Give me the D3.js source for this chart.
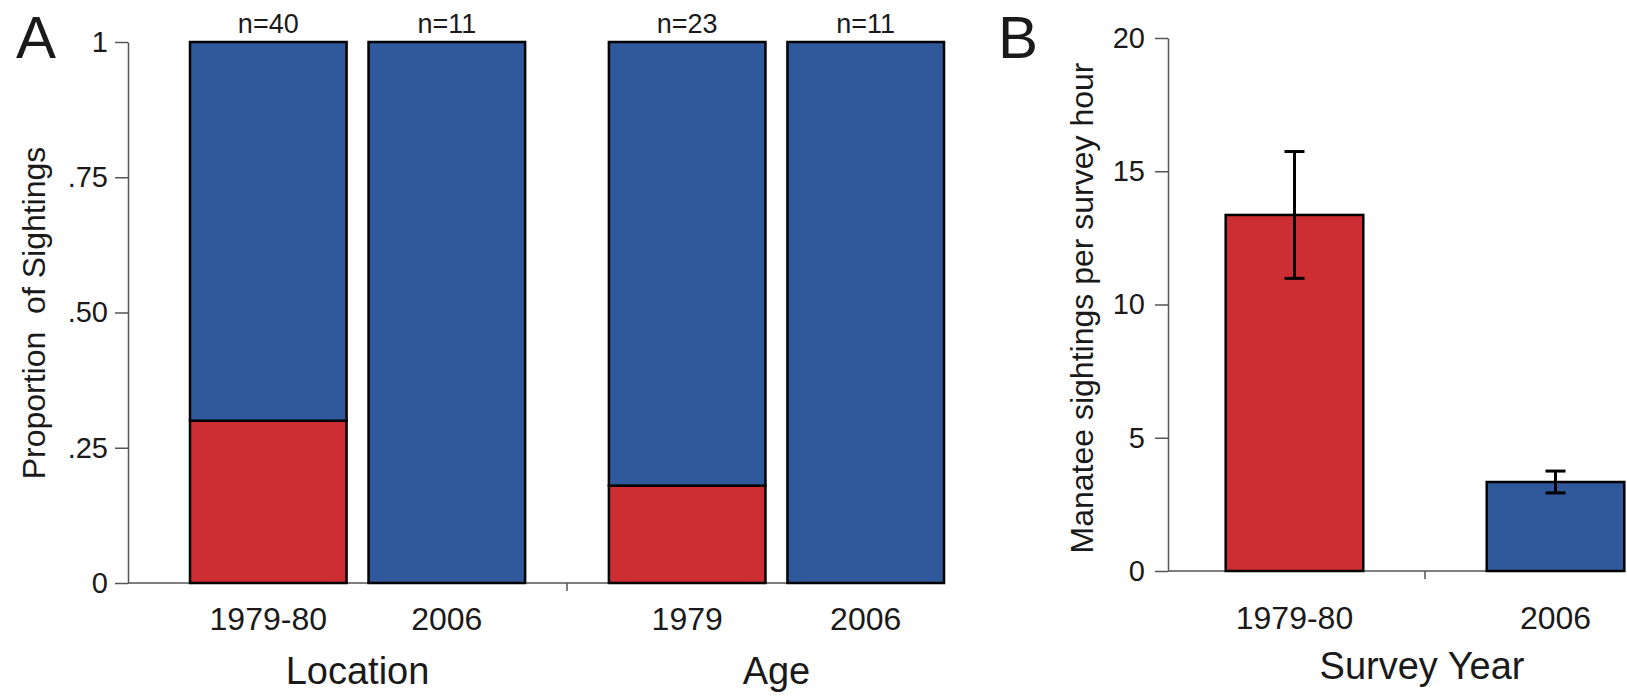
<!DOCTYPE html>
<html>
<head>
<meta charset="utf-8">
<script src="https://cdn.jsdelivr.net/npm/d3@7"></script>
<style>
  body { margin: 0; background: #fff; }
  text { font-family: "Liberation Sans", Arial, Helvetica, sans-serif; fill: #1a1a1a; }
</style>
</head>
<body>
<div id="graph"></div>
<script>
// panel A data
const groupsA = ["Location", "Age"];
const yearsA = ["1979-80", "2006", "1979", "2006"];
const groupOfA = ["Location", "Location", "Age", "Age"];
const redShareA = [0.30, 0, 0.18, 0];
const countsA = [40, 11, 23, 11];
const ticksA = [0, 0.25, 0.5, 0.75, 1];
const tickLabelsA = ["0", ".25", ".50", ".75", "1"];

// panel B data
const yearsB = ["1979-80", "2006"];
const ratesB = [13.36, 3.34];
const errorsB = [2.38, 0.41];
const ticksB = [0, 5, 10, 15, 20];

const width = 1627;
const height = 696;
const red = "#cc2e33";
const blue = "#30599c";
const axisGray = "#555";

let svg = d3.select('#graph')
  .append('svg')
  .attr('width', width)
  .attr('height', height);

function styleAxis(g) {
  g.attr('font-size', 29)
    .attr('font-family', '"Liberation Sans", Arial, sans-serif');
  g.selectAll('.domain, .tick line')
    .attr('stroke', axisGray)
    .attr('stroke-width', 1.5);
  g.selectAll('.tick text').style('fill', '#1a1a1a');
}

// ---------- panel A ----------
let panelA = svg.append('g').attr('class', 'panel-a');

let yA = d3.scaleLinear().domain([0, 1]).range([583, 42]);
let outerA = d3.scaleBand()
  .domain(groupsA)
  .range([128, 1006])
  .paddingInner(0.2)
  .paddingOuter(0.148);
let innerA = d3.scaleBand()
  .domain([0, 1])
  .range([0, outerA.bandwidth()])
  .paddingInner(0.123);

let barsA = yearsA.map((year, i) => {
  let slot = groupOfA.slice(0, i).filter(g => g === groupOfA[i]).length;
  let x = outerA(groupOfA[i]) + innerA(slot);
  let segs = [
    { y0: 0, y1: redShareA[i], color: red },
    { y0: redShareA[i], y1: 1, color: blue }
  ].filter(s => s.y1 > s.y0);
  return { year: year, n: countsA[i], x: x, segs: segs };
});

let lastA = barsA[barsA.length - 1];
// baseline
panelA.append('line')
  .attr('x1', 128).attr('x2', lastA.x + innerA.bandwidth())
  .attr('y1', yA(0)).attr('y2', yA(0))
  .attr('stroke', axisGray).attr('stroke-width', 1.5);
// tick between groups
let midA = (outerA(groupsA[0]) + outerA.bandwidth() + outerA(groupsA[1])) / 2;
panelA.append('line')
  .attr('x1', midA).attr('x2', midA)
  .attr('y1', yA(0)).attr('y2', yA(0) + 8)
  .attr('stroke', axisGray).attr('stroke-width', 1.5);

panelA.append('g')
  .attr('transform', 'translate(128,0)')
  .call(d3.axisLeft(yA)
    .tickValues(ticksA)
    .tickFormat((d, i) => tickLabelsA[i])
    .tickSize(13)
    .tickPadding(7)
    .tickSizeOuter(0))
  .call(styleAxis);

barsA.forEach(b => {
  panelA.selectAll(null)
    .data(b.segs)
    .enter()
    .append('rect')
    .attr('x', b.x)
    .attr('y', d => yA(d.y1))
    .attr('width', innerA.bandwidth())
    .attr('height', d => yA(d.y0) - yA(d.y1))
    .attr('fill', d => d.color)
    .attr('stroke', '#000')
    .attr('stroke-width', 2.5);

  panelA.append('text')
    .attr('x', b.x + innerA.bandwidth() / 2)
    .attr('y', 33)
    .attr('text-anchor', 'middle')
    .attr('font-size', 27)
    .text('n=' + b.n);

  panelA.append('text')
    .attr('x', b.x + innerA.bandwidth() / 2)
    .attr('y', 630)
    .attr('text-anchor', 'middle')
    .attr('font-size', 32)
    .text(b.year);
});

groupsA.forEach(g => {
  panelA.append('text')
    .attr('x', outerA(g) + outerA.bandwidth() / 2)
    .attr('y', 684)
    .attr('text-anchor', 'middle')
    .attr('font-size', 38)
    .text(g);
});

panelA.append('text')
  .attr('transform', 'translate(45,313) rotate(-90)')
  .attr('text-anchor', 'middle')
  .attr('font-size', 32)
  .text('Proportion\u00a0 of Sightings');

panelA.append('text')
  .attr('x', 16).attr('y', 58)
  .attr('font-size', 60)
  .text('A');

// ---------- panel B ----------
let panelB = svg.append('g').attr('class', 'panel-b');

let yB = d3.scaleLinear().domain([0, 20]).range([571, 38]);
let xB = d3.scaleBand()
  .domain(yearsB)
  .range([1168, 1682])
  .paddingInner(0.473)
  .paddingOuter(0.221);

panelB.append('line')
  .attr('x1', 1168).attr('x2', xB(yearsB[1]) + xB.bandwidth())
  .attr('y1', yB(0)).attr('y2', yB(0))
  .attr('stroke', axisGray).attr('stroke-width', 1.5);
let midB = (xB(yearsB[0]) + xB.bandwidth() + xB(yearsB[1])) / 2;
panelB.append('line')
  .attr('x1', midB).attr('x2', midB)
  .attr('y1', yB(0)).attr('y2', yB(0) + 8)
  .attr('stroke', axisGray).attr('stroke-width', 1.5);

panelB.append('g')
  .attr('transform', 'translate(1168,0)')
  .call(d3.axisLeft(yB)
    .tickValues(ticksB)
    .tickSize(13)
    .tickPadding(10)
    .tickSizeOuter(0))
  .call(styleAxis);

let dataB = yearsB.map((y, i) => ({ year: y, rate: ratesB[i], err: errorsB[i], color: i === 0 ? red : blue }));

panelB.selectAll('.bar')
  .data(dataB)
  .enter()
  .append('rect')
  .attr('class', 'bar')
  .attr('x', d => xB(d.year))
  .attr('y', d => yB(d.rate))
  .attr('width', xB.bandwidth())
  .attr('height', d => yB(0) - yB(d.rate))
  .attr('fill', d => d.color)
  .attr('stroke', '#000')
  .attr('stroke-width', 2.5);

let err = panelB.selectAll('.err')
  .data(dataB)
  .enter()
  .append('g')
  .attr('class', 'err')
  .attr('stroke', '#000')
  .attr('stroke-width', 3);
err.append('line')
  .attr('x1', d => xB(d.year) + xB.bandwidth() / 2)
  .attr('x2', d => xB(d.year) + xB.bandwidth() / 2)
  .attr('y1', d => yB(d.rate - d.err))
  .attr('y2', d => yB(d.rate + d.err));
[1, -1].forEach(s => {
  err.append('line')
    .attr('x1', d => xB(d.year) + xB.bandwidth() / 2 - 10)
    .attr('x2', d => xB(d.year) + xB.bandwidth() / 2 + 10)
    .attr('y1', d => yB(d.rate + s * d.err))
    .attr('y2', d => yB(d.rate + s * d.err));
});

dataB.forEach(d => {
  panelB.append('text')
    .attr('x', xB(d.year) + xB.bandwidth() / 2)
    .attr('y', 629)
    .attr('text-anchor', 'middle')
    .attr('font-size', 32)
    .text(d.year);
});

panelB.append('text')
  .attr('x', midB - 3)
  .attr('y', 679)
  .attr('text-anchor', 'middle')
  .attr('font-size', 38)
  .text('Survey Year');

panelB.append('text')
  .attr('transform', 'translate(1093,308) rotate(-90)')
  .attr('text-anchor', 'middle')
  .attr('font-size', 32)
  .text('Manatee sightings per survey hour');

panelB.append('text')
  .attr('x', 998).attr('y', 58)
  .attr('font-size', 60)
  .text('B');
</script>
</body>
</html>
